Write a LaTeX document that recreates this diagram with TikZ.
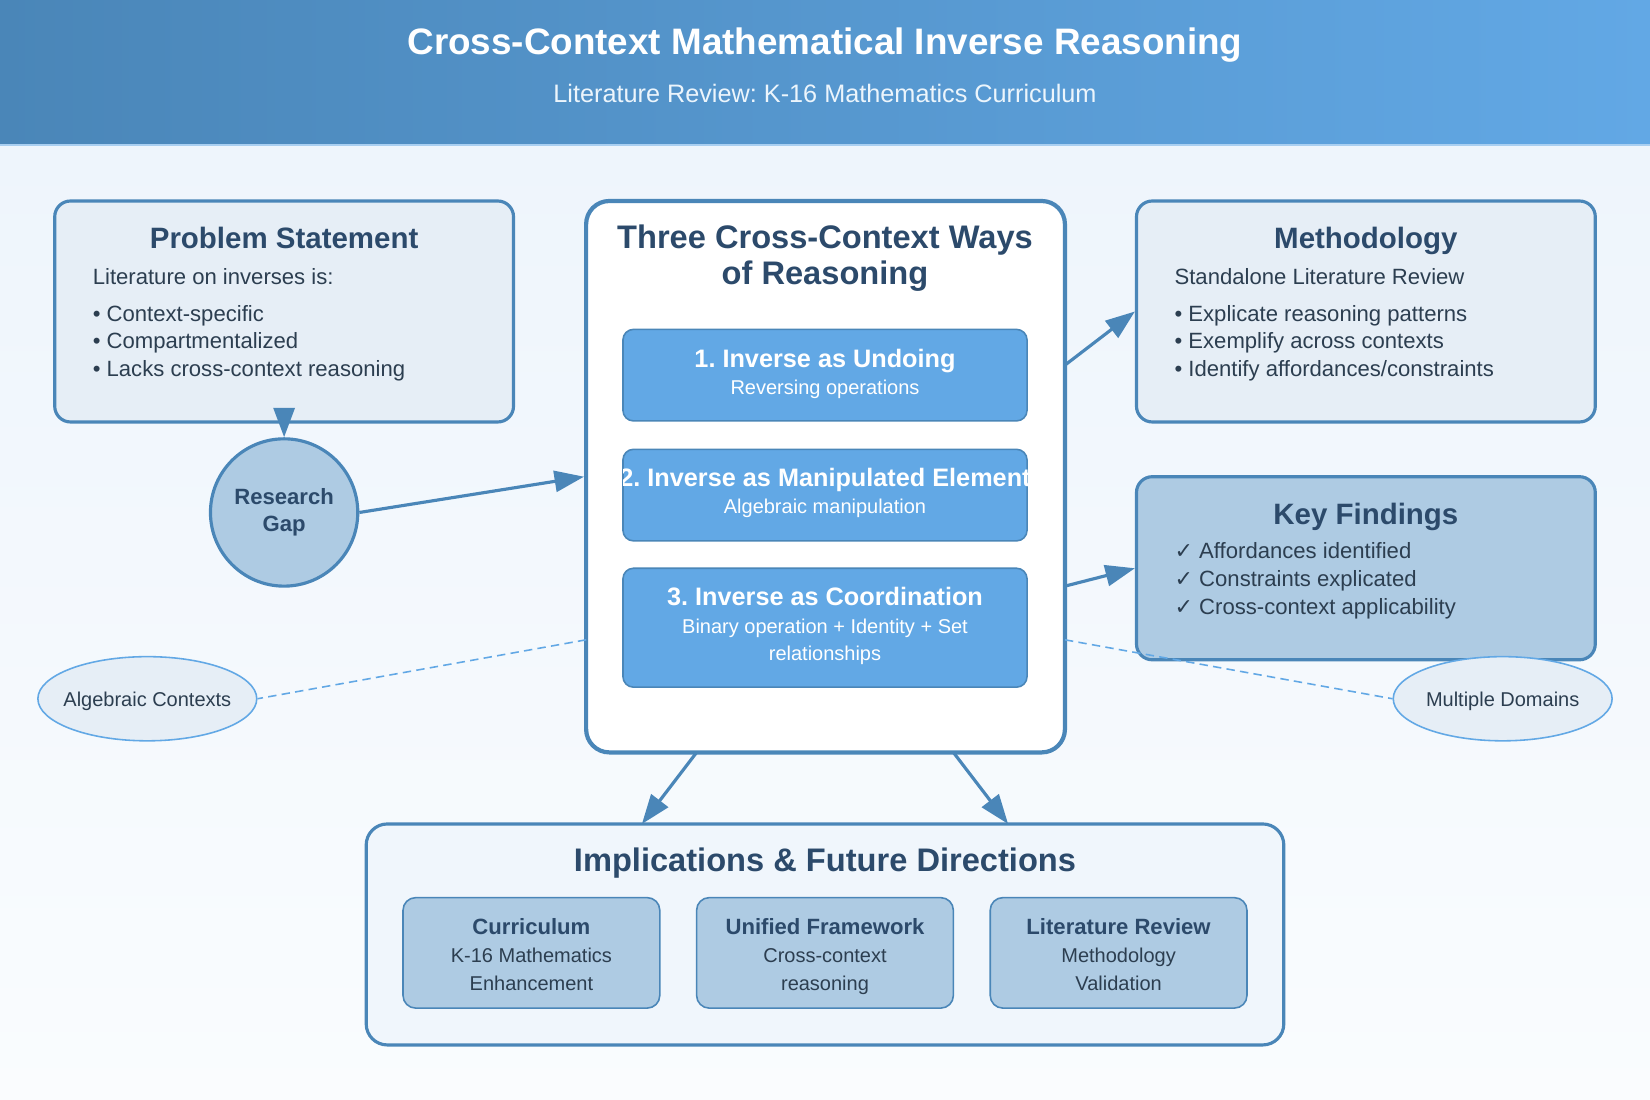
\documentclass[tikz,border=0pt]{standalone}
\usepackage{fontspec}
\setmainfont{Liberation Sans}
\newfontfamily\symfont{DejaVu Sans}
\usetikzlibrary{arrows.meta,shapes.geometric}
\frenchspacing

\definecolor{hdrL}{HTML}{4A86B8}
\definecolor{hdrR}{HTML}{62A8E5}
\definecolor{edge}{HTML}{4A86B8}
\definecolor{navy}{HTML}{2C4A6B}
\definecolor{ink}{HTML}{2C3E50}
\definecolor{pale}{HTML}{E6EEF6}
\definecolor{mid}{HTML}{AECBE3}
\definecolor{bright}{HTML}{62A8E5}
\definecolor{bgtop}{HTML}{EEF5FC}
\definecolor{implfill}{HTML}{F0F6FC}

\newcommand\fTitle{\fontsize{35}{42}\selectfont\bfseries}
\newcommand\fSub{\fontsize{24}{29}\selectfont}
\newcommand\fHead{\fontsize{28}{34}\selectfont\bfseries}
\newcommand\fBody{\fontsize{21}{26}\selectfont}
\newcommand\fBig{\fontsize{31}{34}\selectfont\bfseries}
\newcommand\fWay{\fontsize{24}{28}\selectfont\bfseries}
\newcommand\fSmall{\fontsize{19}{26}\selectfont}
\newcommand\fMini{\fontsize{21}{26}\selectfont\bfseries}

\tikzset{
  card/.style={draw=edge, line width=3pt, rounded corners=15pt, fill=pale,
    minimum width=436pt, minimum height=210pt, inner sep=0pt},
  waybox/.style={draw=edge, line width=1.5pt, rounded corners=10pt, fill=bright,
    minimum width=384pt, minimum height=87pt, inner sep=0pt},
  subbox/.style={draw=edge, line width=1.5pt, rounded corners=12pt, fill=mid,
    minimum width=244pt, minimum height=105pt, inner sep=0pt},
  oval/.style={ellipse, draw=bright, line width=1.5pt, fill=pale,
    minimum width=208pt, minimum height=80pt, inner sep=0pt},
  txt/.style={anchor=base, inner sep=0pt},
  ltxt/.style={anchor=base west, inner sep=0pt, text=ink, font=\fBody},
  arr/.style={draw=edge, line width=3pt, -{Triangle[length=28pt,width=20pt]}},
  link/.style={draw=bright, line width=1.5pt, dash pattern=on 8pt off 5pt}
}

\begin{document}
\begin{tikzpicture}[x=1pt,y=-1pt]
\useasboundingbox (0,0) rectangle (1568,1045);

\shade[top color=bgtop, bottom color=white!70!bgtop] (0,138) rectangle (1568,1045);
\shade[left color=hdrL, right color=hdrR] (0,0) rectangle (1568,138);
\draw[line width=2pt, bright!55!white] (0,138) -- (1568,138);

\node[txt, white, font=\fTitle] (ttl) at (784,52) {Cross-Context Mathematical Inverse Reasoning};
\node[txt, white!88!hdrR, font=\fSub] (sub) at (784,97) {Literature Review: K-16 Mathematics Curriculum};

% side cards
\node[card] (prob) at (270,296) {};
\node[txt, navy, font=\fHead] (probT) at (270,236) {Problem Statement};
\node[ltxt] (prob0) at (88,270.5) {Literature on inverses is:};
\node[ltxt] (prob1) at (88,305.5) {• Context-specific};
\node[ltxt] (prob2) at (88,331.5) {• Compartmentalized};
\node[ltxt] (prob3) at (88,357.5) {• Lacks cross-context reasoning};

\node[card] (meth) at (1298,296) {};
\node[txt, navy, font=\fHead] (methT) at (1298,236) {Methodology};
\node[ltxt] (meth0) at (1116,270.5) {Standalone Literature Review};
\node[ltxt] (meth1) at (1116,305.5) {• Explicate reasoning patterns};
\node[ltxt] (meth2) at (1116,331.5) {• Exemplify across contexts};
\node[ltxt] (meth3) at (1116,357.5) {• Identify affordances/constraints};

\node[card, fill=mid, minimum height=174pt] (key) at (1298,540) {};
\node[txt, navy, font=\fHead] (keyT) at (1298,498) {Key Findings};
\node[ltxt] (key1) at (1116,530.5) {{\symfont ✓} Affordances identified};
\node[ltxt] (key2) at (1116,557.5) {{\symfont ✓} Constraints explicated};
\node[ltxt] (key3) at (1116,583.5) {{\symfont ✓} Cross-context applicability};

\node[circle, draw=edge, line width=3pt, fill=mid, minimum size=140pt, inner sep=0pt,
  align=center, text=navy, font=\fMini] (gap) at (270,487) {Research\\Gap};

% central box
\node[draw=edge, line width=4pt, rounded corners=22pt, fill=white,
  minimum width=455pt, minimum height=524pt] (ways) at (784.5,453) {};
\node[txt, navy, font=\fBig] (waysT1) at (784,236) {Three Cross-Context Ways};
\node[txt, navy, font=\fBig] (waysT2) at (784,270) {of Reasoning};

\node[waybox] (w1) at (784,356.5) {};
\node[txt, white, font=\fWay] (w1a) at (784,349.6) {1. Inverse as Undoing};
\node[txt, white, font=\fSmall] (w1b) at (784,375) {Reversing operations};

\node[waybox] (w2) at (784,470.5) {};
\begin{scope}
\clip[rounded corners=10pt] (592,427) rectangle (976,514);
\node[txt, white, font=\fWay] (w2a) at (784,462.6) {2. Inverse as Manipulated Element};
\end{scope}
\node[txt, white, font=\fSmall] (w2b) at (784,488) {Algebraic manipulation};

\node[waybox, minimum height=113pt] (w3) at (784,596.5) {};
\node[txt, white, font=\fWay] (w3a) at (784,575.6) {3. Inverse as Coordination};
\node[txt, white, font=\fSmall] (w3b) at (784,602) {Binary operation + Identity + Set};
\node[txt, white, font=\fSmall] (w3c) at (784,628) {relationships};

% bottom box
\node[draw=edge, line width=3pt, rounded corners=20pt, fill=implfill,
  minimum width=872pt, minimum height=210pt] (impl) at (784,888) {};
\node[txt, navy, font=\fBig] (implT) at (784,828) {Implications \& Future Directions};

\node[subbox] (cur) at (505,905.5) {};
\node[txt, navy, font=\fMini] (curT) at (505,888.5) {Curriculum};
\node[txt, ink, font=\fSmall] (cur1) at (505,915) {K-16 Mathematics};
\node[txt, ink, font=\fSmall] (cur2) at (505,941) {Enhancement};

\node[subbox] (uni) at (784,905.5) {};
\node[txt, navy, font=\fMini] (uniT) at (784,888.5) {Unified Framework};
\node[txt, ink, font=\fSmall] (uni1) at (784,915) {Cross-context};
\node[txt, ink, font=\fSmall] (uni2) at (784,941) {reasoning};

\node[subbox] (lit) at (1063,905.5) {};
\node[txt, navy, font=\fMini] (litT) at (1063,888.5) {Literature Review};
\node[txt, ink, font=\fSmall] (lit1) at (1063,915) {Methodology};
\node[txt, ink, font=\fSmall] (lit2) at (1063,941) {Validation};

% connectors
\coordinate (probS) at (270,389);
\coordinate (waysL) at (557,608);
\coordinate (waysR) at (1012,608);
\coordinate (waysM) at (1012,347);
\coordinate (waysK) at (1012,557);
\coordinate (waysB1) at (662,715);
\coordinate (waysB2) at (906,715);
\coordinate (implL) at (610,783);
\coordinate (implR) at (958,783);

\node[oval] (alg) at (140,664) {};
\node[txt, ink, font=\fSmall] (algT) at (140,671) {Algebraic Contexts};
\node[oval] (dom) at (1428,664) {};
\node[txt, ink, font=\fSmall] (domT) at (1428,671) {Multiple Domains};
\draw[link] (waysL) -- (alg.east);
\draw[link] (waysR) -- (dom.west);

\draw[arr] (probS) -- (gap.north);
\draw[arr] (gap.east) -- (ways.west);
\draw[arr] (waysM) -- (meth.west);
\draw[arr] (waysK) -- (key.west);
\draw[arr] (waysB1) -- (implL);
\draw[arr] (waysB2) -- (implR);
\end{tikzpicture}
\end{document}
